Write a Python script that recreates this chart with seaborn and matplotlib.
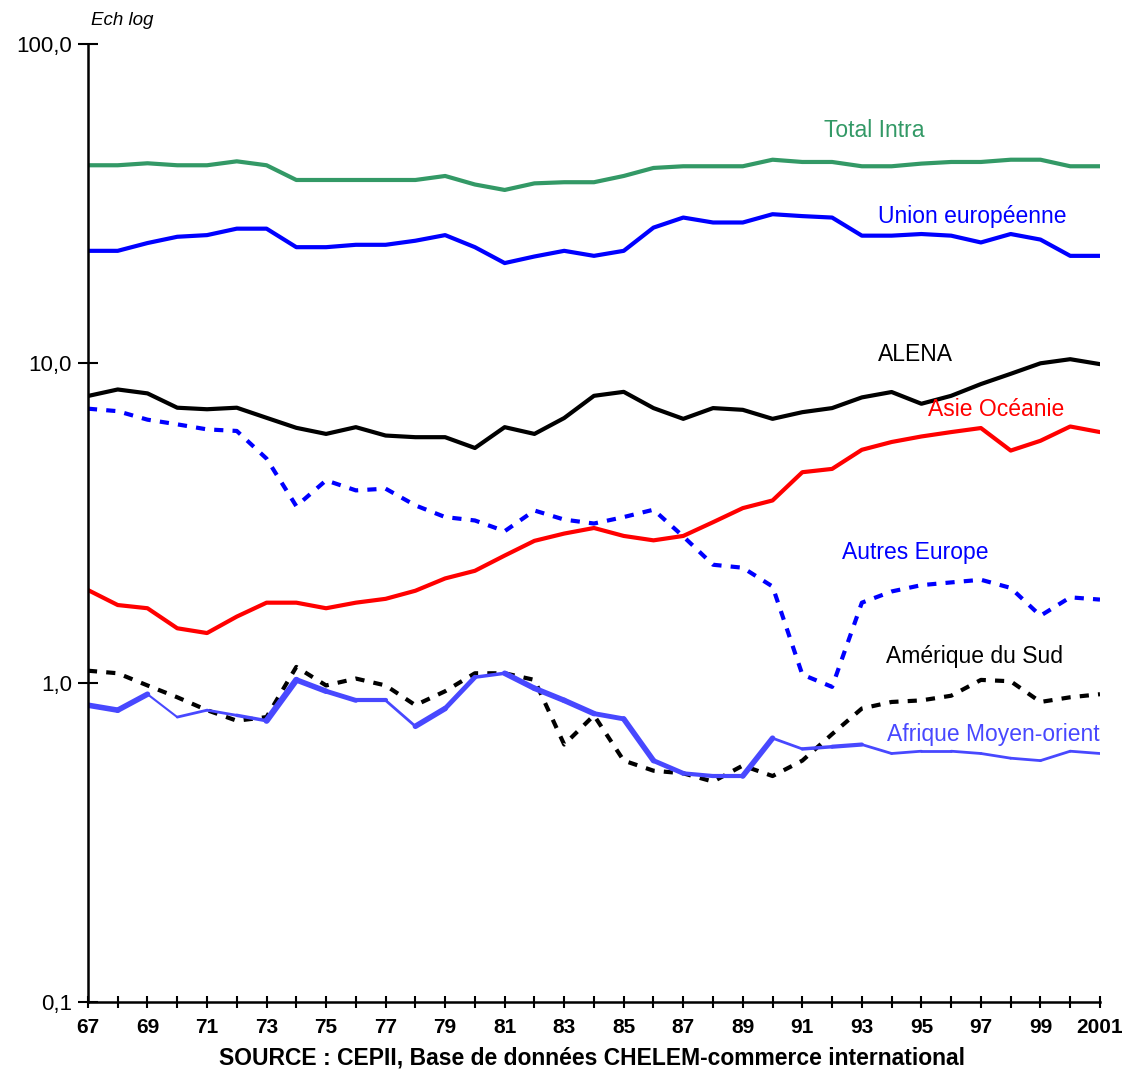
import numpy as np
import pandas as pd
import matplotlib
matplotlib.use("Agg")
import matplotlib.pyplot as plt
import seaborn as sns

# years 1967-2001, share of intra-zone trade (log scale)
years = list(range(1967, 2002))

total_intra = [41.7, 41.7, 42.3, 41.7, 41.7, 42.9, 41.7, 37.5, 37.5, 37.5,
               37.5, 37.5, 38.6, 36.3, 34.9, 36.6, 36.9, 36.9, 38.6, 40.9,
               41.4, 41.4, 41.4, 43.4, 42.7, 42.7, 41.4, 41.4, 42.2, 42.7,
               42.7, 43.4, 43.4, 41.4, 41.4]
union_eu = [22.5, 22.5, 23.8, 24.9, 25.2, 26.4, 26.4, 23.1, 23.1, 23.5,
            23.5, 24.2, 25.2, 23.1, 20.6, 21.6, 22.5, 21.7, 22.5, 26.6,
            28.6, 27.6, 27.6, 29.3, 28.9, 28.6, 25.1, 25.1, 25.4, 25.1,
            23.9, 25.4, 24.4, 21.7, 21.7]
alena = [7.90, 8.28, 8.05, 7.26, 7.18, 7.26, 6.75, 6.28, 6.01, 6.31,
         5.94, 5.87, 5.87, 5.43, 6.31, 6.01, 6.74, 7.91, 8.14, 7.24,
         6.70, 7.24, 7.15, 6.70, 7.03, 7.24, 7.82, 8.13, 7.47, 7.91,
         8.61, 9.27, 10.0, 10.3, 9.94]
asie_oceanie = [1.95, 1.75, 1.71, 1.48, 1.43, 1.61, 1.78, 1.78, 1.71, 1.78,
                1.83, 1.94, 2.12, 2.24, 2.50, 2.78, 2.93, 3.05, 2.88, 2.79,
                2.88, 3.18, 3.52, 3.72, 4.56, 4.67, 5.36, 5.67, 5.90, 6.09,
                6.27, 5.33, 5.72, 6.34, 6.09]
autres_europe = [7.21, 7.08, 6.66, 6.44, 6.21, 6.14, 5.03, 3.57, 4.30, 4.00,
                 4.05, 3.59, 3.30, 3.22, 2.98, 3.46, 3.24, 3.15, 3.30, 3.48,
                 2.87, 2.34, 2.29, 2.00, 1.06, 0.97, 1.78, 1.93, 2.02, 2.06,
                 2.10, 1.98, 1.62, 1.85, 1.82]
amerique_sud = [1.09, 1.07, 0.98, 0.90, 0.82, 0.76, 0.78, 1.12, 0.98, 1.03,
                0.98, 0.85, 0.94, 1.07, 1.07, 1.02, 0.64, 0.79, 0.57, 0.53,
                0.52, 0.49, 0.55, 0.51, 0.57, 0.69, 0.83, 0.87, 0.88, 0.91,
                1.02, 1.01, 0.87, 0.90, 0.92]
afrique_mo = [0.85, 0.82, 0.92, 0.78, 0.82, 0.79, 0.76, 1.02, 0.94, 0.88,
              0.88, 0.73, 0.83, 1.04, 1.07, 0.96, 0.88, 0.80, 0.77, 0.57,
              0.52, 0.51, 0.51, 0.67, 0.62, 0.63, 0.64, 0.60, 0.61, 0.61,
              0.60, 0.58, 0.57, 0.61, 0.60]

# the Afrique line changes thickness from one year to the next in the original
afrique_widths = [4, 4, 1.5, 2, 2, 2.5, 4.5, 4, 3.5, 3, 2, 4, 3.5, 2.5, 4,
                  4, 4, 3.5, 4, 3.5, 3, 3, 4, 2, 2.5, 3, 2, 2, 2, 2, 2, 2,
                  2, 2]

y_ticks = [0.1, 1, 10, 100]
y_tick_labels = ["0,1", "1,0", "10,0", "100,0"]
x_tick_labels = [("2001" if y == 2001 else str(y)[2:]) if (y - 1967) % 2 == 0 else ""
                 for y in years]

GREEN = "#339966"
BLUE = "#0000ff"
RED = "#ff0000"
LIGHT_BLUE = "#4848ff"

sns.set_style("white")
plt.rcParams["font.family"] = ["Liberation Sans", "DejaVu Sans"]
plt.rcParams["text.color"] = "black"
plt.rcParams["xtick.color"] = "black"
plt.rcParams["ytick.color"] = "black"

fig = plt.figure(figsize=(11.29, 10.72), dpi=100)
ax = fig.add_axes([0.0779, 0.0653, 0.8964, 0.8937])

sns.lineplot(x=years, y=total_intra, color=GREEN, linewidth=3, ax=ax)
sns.lineplot(x=years, y=union_eu, color=BLUE, linewidth=3, ax=ax)
sns.lineplot(x=years, y=alena, color="black", linewidth=3, ax=ax)
sns.lineplot(x=years, y=asie_oceanie, color=RED, linewidth=3, ax=ax)
sns.lineplot(x=years, y=autres_europe, color=BLUE, linewidth=3,
             linestyle=(0, (2.2, 2.2)), ax=ax)
sns.lineplot(x=years, y=amerique_sud, color="black", linewidth=3,
             linestyle=(0, (2.2, 2.2)), ax=ax)
for i, w in enumerate(afrique_widths):
    sns.lineplot(x=years[i:i + 2], y=afrique_mo[i:i + 2], color=LIGHT_BLUE,
                 linewidth=w, solid_capstyle="round", ax=ax)

ax.set_yscale("log")
ax.set_ylim(0.1, 100)
ax.set_xlim(1967, 2001)
ax.set_yticks(y_ticks)
ax.set_yticklabels(y_tick_labels, fontsize=16)
ax.yaxis.set_minor_locator(matplotlib.ticker.NullLocator())
ax.set_xticks(years)
ax.set_xticklabels(x_tick_labels, fontsize=15, fontweight="bold")
ax.tick_params(axis="x", direction="inout", length=9, width=1.5, pad=7,
               bottom=True, colors="black")
ax.tick_params(axis="y", direction="inout", length=15, width=1.5, pad=4,
               left=True, colors="black")
ax.set_xlabel("")
ax.set_ylabel("")

for side in ["top", "right"]:
    ax.spines[side].set_visible(False)
for side in ["left", "bottom"]:
    ax.spines[side].set_color("black")
    ax.spines[side].set_linewidth(1.8)

# series labels
lab_kw = dict(fontsize=16.5, ha="center", va="center")
ax.text(1993.4, 53.5, "Total Intra", color=GREEN, **lab_kw)
ax.text(1996.7, 28.9, "Union européenne", color=BLUE, **lab_kw)
ax.text(1994.8, 10.63, "ALENA", color="black", **lab_kw)
ax.text(1997.5, 7.15, "Asie Océanie", color=RED, **lab_kw)
ax.text(1994.8, 2.56, "Autres Europe", color=BLUE, **lab_kw)
ax.text(1996.8, 1.21, "Amérique du Sud", color="black", **lab_kw)
ax.text(1997.4, 0.687, "Afrique Moyen-orient", color=LIGHT_BLUE, **lab_kw)

fig.text(0.108, 0.981, "Ech log", fontsize=13.5, style="italic",
         ha="center", va="center")
fig.text(0.524, 0.013, "SOURCE : CEPII, Base de données CHELEM-commerce international",
         fontsize=16.5, fontweight="bold", ha="center", va="center")

fig.savefig("out.png", dpi=100, facecolor="white")
